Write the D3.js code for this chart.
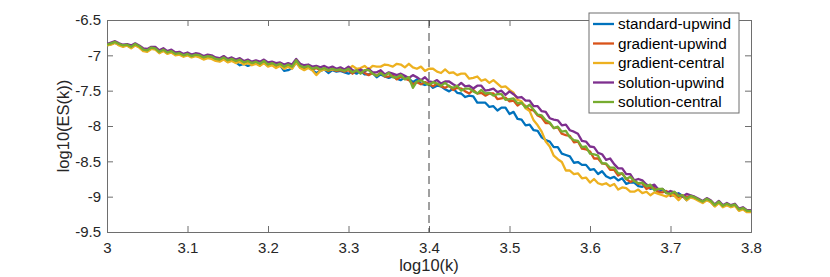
<!DOCTYPE html>
<html lang="en">
<head>
    <meta charset="UTF-8">
    <title>log10(ES(k)) vs log10(k)</title>
    <style>
        body { margin: 0; background: #fff; }
        svg { font-family: "Liberation Sans", Arial, Helvetica, sans-serif; }
        .axis text { font-size: 15px; }
        .label { font-size: 16.5px; fill: #262626; }
        .legend text { font-size: 15.3px; fill: #000; }
    </style>
    <script src="https://d3js.org/d3.v7.min.js"></script>
</head>
<body>
    <script>
        // log10(k) sample positions
        const logK = [
            3.000,3.005,3.010,3.015,3.020,3.025,3.030,3.035,3.040,3.045,
            3.050,3.055,3.060,3.065,3.070,3.075,3.080,3.085,3.090,3.095,
            3.100,3.105,3.110,3.115,3.120,3.125,3.130,3.135,3.140,3.145,
            3.150,3.155,3.160,3.165,3.170,3.175,3.180,3.185,3.190,3.195,
            3.200,3.205,3.210,3.215,3.220,3.225,3.230,3.235,3.240,3.245,
            3.250,3.255,3.260,3.265,3.270,3.275,3.280,3.285,3.290,3.295,
            3.300,3.305,3.310,3.315,3.320,3.325,3.330,3.335,3.340,3.345,
            3.350,3.355,3.360,3.365,3.370,3.375,3.380,3.385,3.390,3.395,
            3.400,3.405,3.410,3.415,3.420,3.425,3.430,3.435,3.440,3.445,
            3.450,3.455,3.460,3.465,3.470,3.475,3.480,3.485,3.490,3.495,
            3.500,3.505,3.510,3.515,3.520,3.525,3.530,3.535,3.540,3.545,
            3.550,3.555,3.560,3.565,3.570,3.575,3.580,3.585,3.590,3.595,
            3.600,3.605,3.610,3.615,3.620,3.625,3.630,3.635,3.640,3.645,
            3.650,3.655,3.660,3.665,3.670,3.675,3.680,3.685,3.690,3.695,
            3.700,3.705,3.710,3.715,3.720,3.725,3.730,3.735,3.740,3.745,
            3.750,3.755,3.760,3.765,3.770,3.775,3.780,3.785,3.790,3.795,
            3.800
        ];

        const standardUpwind = [
            -6.86,-6.84,-6.82,-6.85,-6.87,-6.86,-6.89,-6.85,-6.88,-6.93,
            -6.94,-6.90,-6.91,-6.96,-6.93,-6.97,-6.95,-6.99,-6.98,-7.01,
            -6.99,-7.02,-7.00,-7.02,-7.05,-7.03,-7.04,-7.07,-7.08,-7.05,
            -7.09,-7.07,-7.10,-7.14,-7.12,-7.15,-7.13,-7.11,-7.14,-7.10,
            -7.15,-7.13,-7.16,-7.14,-7.22,-7.21,-7.18,-7.10,-7.17,-7.19,
            -7.17,-7.21,-7.25,-7.22,-7.20,-7.25,-7.21,-7.23,-7.22,-7.24,
            -7.26,-7.23,-7.26,-7.22,-7.27,-7.27,-7.25,-7.31,-7.27,-7.30,
            -7.32,-7.30,-7.33,-7.35,-7.31,-7.33,-7.38,-7.34,-7.40,-7.42,
            -7.40,-7.46,-7.43,-7.44,-7.48,-7.51,-7.47,-7.53,-7.54,-7.59,
            -7.57,-7.58,-7.67,-7.67,-7.67,-7.73,-7.72,-7.78,-7.74,-7.74,
            -7.83,-7.80,-7.90,-7.91,-7.99,-7.98,-8.06,-8.07,-8.16,-8.20,
            -8.22,-8.30,-8.30,-8.39,-8.41,-8.43,-8.52,-8.51,-8.55,-8.55,
            -8.62,-8.61,-8.68,-8.64,-8.71,-8.74,-8.72,-8.77,-8.74,-8.82,
            -8.80,-8.80,-8.85,-8.86,-8.83,-8.89,-8.88,-8.94,-8.90,-8.93,
            -8.97,-8.99,-8.95,-8.99,-9.05,-9.00,-9.02,-9.05,-9.08,-9.04,
            -9.07,-9.13,-9.08,-9.14,-9.11,-9.14,-9.12,-9.19,-9.17,-9.21,
            -9.21
        ];

        const gradientUpwind = [
            -6.85,-6.84,-6.82,-6.85,-6.87,-6.86,-6.89,-6.85,-6.88,-6.93,
            -6.94,-6.90,-6.91,-6.96,-6.93,-6.97,-6.95,-6.99,-6.98,-7.01,
            -6.99,-7.02,-7.00,-7.01,-7.04,-7.02,-7.03,-7.06,-7.07,-7.04,
            -7.08,-7.06,-7.09,-7.07,-7.11,-7.09,-7.12,-7.10,-7.13,-7.09,
            -7.14,-7.12,-7.15,-7.13,-7.17,-7.14,-7.17,-7.08,-7.16,-7.18,
            -7.16,-7.20,-7.18,-7.21,-7.19,-7.22,-7.20,-7.22,-7.21,-7.23,
            -7.21,-7.26,-7.21,-7.21,-7.25,-7.28,-7.25,-7.29,-7.24,-7.30,
            -7.30,-7.28,-7.34,-7.30,-7.33,-7.35,-7.41,-7.38,-7.41,-7.38,
            -7.40,-7.44,-7.40,-7.44,-7.46,-7.43,-7.49,-7.46,-7.47,-7.51,
            -7.54,-7.49,-7.54,-7.53,-7.57,-7.54,-7.54,-7.62,-7.61,-7.60,
            -7.65,-7.64,-7.71,-7.67,-7.72,-7.77,-7.78,-7.85,-7.88,-7.96,
            -7.96,-8.03,-8.02,-8.11,-8.13,-8.14,-8.23,-8.22,-8.32,-8.33,
            -8.36,-8.46,-8.46,-8.53,-8.54,-8.62,-8.62,-8.70,-8.67,-8.75,
            -8.79,-8.77,-8.82,-8.81,-8.89,-8.87,-8.88,-8.94,-8.94,-8.92,
            -8.99,-8.96,-9.01,-8.98,-9.00,-9.00,-9.02,-9.05,-9.08,-9.04,
            -9.07,-9.13,-9.08,-9.14,-9.11,-9.14,-9.12,-9.19,-9.17,-9.21,
            -9.21
        ];

        const gradientCentral = [
            -6.86,-6.85,-6.82,-6.86,-6.88,-6.86,-6.90,-6.86,-6.89,-6.94,
            -6.95,-6.91,-6.92,-6.97,-6.94,-6.98,-6.96,-7.00,-6.99,-7.02,
            -7.00,-7.03,-7.01,-7.03,-7.06,-7.04,-7.05,-7.08,-7.09,-7.06,
            -7.10,-7.08,-7.11,-7.09,-7.13,-7.11,-7.14,-7.12,-7.15,-7.11,
            -7.16,-7.14,-7.18,-7.15,-7.19,-7.16,-7.19,-7.10,-7.18,-7.21,
            -7.18,-7.21,-7.28,-7.22,-7.20,-7.21,-7.20,-7.20,-7.19,-7.20,
            -7.20,-7.15,-7.19,-7.18,-7.15,-7.20,-7.15,-7.16,-7.16,-7.13,
            -7.14,-7.16,-7.12,-7.13,-7.17,-7.12,-7.17,-7.19,-7.16,-7.22,
            -7.19,-7.19,-7.23,-7.25,-7.20,-7.25,-7.24,-7.28,-7.26,-7.26,
            -7.33,-7.32,-7.30,-7.36,-7.34,-7.39,-7.35,-7.40,-7.45,-7.44,
            -7.49,-7.53,-7.63,-7.65,-7.75,-7.79,-7.92,-7.99,-8.08,-8.22,
            -8.29,-8.42,-8.47,-8.51,-8.63,-8.63,-8.68,-8.67,-8.74,-8.73,
            -8.80,-8.75,-8.81,-8.83,-8.81,-8.85,-8.82,-8.90,-8.87,-8.88,
            -8.93,-8.93,-8.90,-8.95,-8.93,-8.98,-8.94,-8.96,-8.98,-9.00,
            -8.96,-8.99,-9.05,-8.99,-9.05,-9.01,-9.03,-9.06,-9.09,-9.05,
            -9.08,-9.14,-9.09,-9.15,-9.12,-9.15,-9.13,-9.20,-9.18,-9.22,
            -9.22
        ];

        const solutionUpwind = [
            -6.84,-6.82,-6.80,-6.83,-6.85,-6.84,-6.86,-6.83,-6.86,-6.90,
            -6.91,-6.88,-6.88,-6.93,-6.90,-6.94,-6.92,-6.96,-6.95,-6.98,
            -6.96,-6.99,-6.97,-6.98,-7.01,-6.99,-7.00,-7.03,-7.04,-7.01,
            -7.05,-7.03,-7.06,-7.04,-7.08,-7.06,-7.09,-7.07,-7.09,-7.06,
            -7.10,-7.09,-7.11,-7.10,-7.13,-7.11,-7.13,-7.05,-7.12,-7.14,
            -7.13,-7.16,-7.15,-7.17,-7.15,-7.18,-7.16,-7.19,-7.17,-7.20,
            -7.16,-7.21,-7.23,-7.20,-7.23,-7.19,-7.24,-7.24,-7.21,-7.27,
            -7.24,-7.26,-7.28,-7.26,-7.29,-7.32,-7.28,-7.31,-7.35,-7.31,
            -7.37,-7.38,-7.35,-7.40,-7.37,-7.37,-7.41,-7.44,-7.39,-7.44,
            -7.43,-7.47,-7.43,-7.43,-7.50,-7.49,-7.47,-7.52,-7.50,-7.56,
            -7.51,-7.55,-7.60,-7.59,-7.64,-7.64,-7.72,-7.72,-7.79,-7.80,
            -7.89,-7.91,-7.92,-7.99,-7.98,-8.06,-8.08,-8.11,-8.21,-8.22,
            -8.29,-8.30,-8.38,-8.40,-8.48,-8.46,-8.54,-8.60,-8.60,-8.68,
            -8.68,-8.77,-8.75,-8.77,-8.83,-8.85,-8.83,-8.90,-8.89,-8.95,
            -8.92,-8.94,-8.97,-9.00,-8.96,-8.98,-9.00,-9.03,-9.06,-9.02,
            -9.05,-9.11,-9.06,-9.12,-9.09,-9.12,-9.10,-9.17,-9.15,-9.19,
            -9.19
        ];

        const solutionCentral = [
            -6.85,-6.83,-6.81,-6.84,-6.86,-6.85,-6.88,-6.84,-6.87,-6.92,
            -6.93,-6.89,-6.90,-6.95,-6.92,-6.96,-6.94,-6.98,-6.97,-7.00,
            -6.98,-7.01,-6.99,-7.00,-7.03,-7.01,-7.02,-7.05,-7.06,-7.03,
            -7.07,-7.05,-7.08,-7.06,-7.10,-7.08,-7.11,-7.09,-7.12,-7.08,
            -7.13,-7.11,-7.14,-7.12,-7.16,-7.13,-7.16,-7.07,-7.15,-7.17,
            -7.15,-7.19,-7.17,-7.20,-7.18,-7.21,-7.19,-7.21,-7.20,-7.22,
            -7.19,-7.24,-7.21,-7.26,-7.21,-7.21,-7.26,-7.29,-7.25,-7.29,
            -7.25,-7.31,-7.31,-7.28,-7.34,-7.31,-7.46,-7.37,-7.35,-7.39,
            -7.42,-7.38,-7.40,-7.43,-7.39,-7.44,-7.46,-7.43,-7.50,-7.47,
            -7.47,-7.51,-7.54,-7.49,-7.54,-7.53,-7.57,-7.55,-7.55,-7.63,
            -7.62,-7.61,-7.68,-7.67,-7.74,-7.70,-7.77,-7.84,-7.85,-7.92,
            -7.95,-8.03,-8.01,-8.08,-8.07,-8.16,-8.20,-8.21,-8.30,-8.29,
            -8.39,-8.40,-8.42,-8.53,-8.53,-8.59,-8.59,-8.67,-8.67,-8.75,
            -8.72,-8.78,-8.81,-8.80,-8.85,-8.83,-8.91,-8.89,-8.89,-8.95,
            -8.96,-8.93,-8.99,-8.98,-9.03,-8.99,-9.01,-9.04,-9.07,-9.03,
            -9.06,-9.12,-9.07,-9.13,-9.10,-9.13,-9.11,-9.18,-9.16,-9.20,
            -9.20
        ];

        const seriesNames = ["standard-upwind", "gradient-upwind", "gradient-central", "solution-upwind", "solution-central"];
        const seriesValues = [standardUpwind, gradientUpwind, gradientCentral, solutionUpwind, solutionCentral];
        const seriesColors = ["#0072BD", "#D95319", "#EDB120", "#7E2F8E", "#77AC30"];

        const xTicks = [3, 3.1, 3.2, 3.3, 3.4, 3.5, 3.6, 3.7, 3.8];
        const xTickLabels = ["3", "3.1", "3.2", "3.3", "3.4", "3.5", "3.6", "3.7", "3.8"];
        const yTicks = [-9.5, -9, -8.5, -8, -7.5, -7, -6.5];
        const yTickLabels = ["-9.5", "-9", "-8.5", "-8", "-7.5", "-7", "-6.5"];
        const markerK = 3.4;

        let margin = {top: 20, right: 79, bottom: 45, left: 107},
            width = 830 - margin.left - margin.right,
            height = 277 - margin.top - margin.bottom;

        let svg = d3.select("body")
            .append("svg")
            .attr("width", 830)
            .attr("height", 277)
            .append("g")
            .attr("transform", "translate(" + margin.left + "," + margin.top + ")");

        let x = d3.scaleLinear().domain([3, 3.8]).range([0, width]);
        let y = d3.scaleLinear().domain([-9.5, -6.5]).range([height, 0]);

        svg.append("clipPath").attr("id", "plotClip")
            .append("rect").attr("width", width).attr("height", height);

        // ticks point inward, box on all four sides
        svg.append("g").attr("class", "axis")
            .attr("transform", "translate(0," + height + ")")
            .call(d3.axisBottom(x).tickValues(xTicks)
                .tickFormat((d, i) => xTickLabels[i]).tickSize(-6).tickPadding(10));
        svg.append("g").attr("class", "axis")
            .call(d3.axisTop(x).tickValues(xTicks).tickFormat("").tickSize(-6));
        svg.append("g").attr("class", "axis")
            .call(d3.axisLeft(y).tickValues(yTicks)
                .tickFormat((d, i) => yTickLabels[i]).tickSize(-6).tickPadding(6));
        svg.append("g").attr("class", "axis")
            .attr("transform", "translate(" + width + ",0)")
            .call(d3.axisRight(y).tickValues(yTicks).tickFormat("").tickSize(-6));
        svg.selectAll(".axis text").attr("fill", "#262626");
        svg.selectAll(".axis line, .axis path").attr("stroke", "#6e6e6e");

        let line = d3.line()
            .x((d, i) => x(logK[i]))
            .y(d => y(d));

        svg.append("g").attr("clip-path", "url(#plotClip)")
            .selectAll("path")
            .data(seriesValues)
            .enter()
            .append("path")
            .attr("fill", "none")
            .attr("stroke", (d, i) => seriesColors[i])
            .attr("stroke-width", 2.3)
            .attr("stroke-linejoin", "round")
            .attr("d", line);

        svg.append("line")
            .attr("x1", x(markerK)).attr("x2", x(markerK))
            .attr("y1", 0).attr("y2", height)
            .attr("stroke", "#404040")
            .attr("stroke-width", 1)
            .attr("stroke-dasharray", "8,5");

        svg.append("text")
            .attr("class", "label")
            .attr("x", x(3.4))
            .attr("y", height + 38.5)
            .style("text-anchor", "middle")
            .text("log10(k)");

        svg.append("text")
            .attr("class", "label")
            .attr("transform", "translate(" + (-38) + "," + (height / 2) + ") rotate(-90)")
            .style("text-anchor", "middle")
            .text("log10(ES(k))");

        // legend
        let legend = svg.append("g").attr("class", "legend")
            .attr("transform", "translate(" + (589 - margin.left) + "," + (13 - margin.top) + ")");
        legend.append("rect")
            .attr("width", 150).attr("height", 100)
            .attr("fill", "#fff").attr("stroke", "#6e6e6e").attr("stroke-width", 1);
        let items = legend.selectAll(".item")
            .data(seriesNames)
            .enter()
            .append("g")
            .attr("class", "item")
            .attr("transform", (d, i) => "translate(0," + (11 + i * 19.5) + ")");
        items.append("line")
            .attr("x1", 4).attr("x2", 25)
            .attr("stroke", (d, i) => seriesColors[i])
            .attr("stroke-width", 2.3);
        items.append("text")
            .attr("x", 29)
            .attr("dy", "0.35em")
            .text(d => d);
    </script>
</body>
</html>
